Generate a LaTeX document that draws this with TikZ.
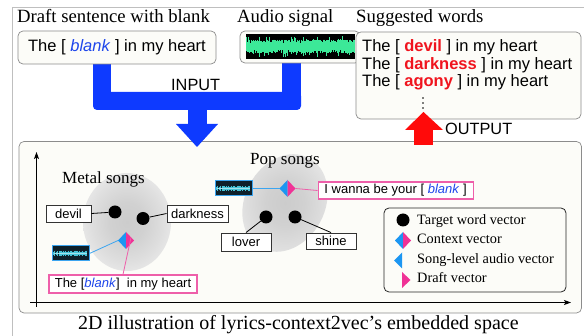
\documentclass[tikz,border=0pt]{standalone}
\usepackage{fontspec}
\setmainfont{Liberation Serif}
\setsansfont{Liberation Sans}
\usetikzlibrary{arrows.meta,calc}

\definecolor{arrowblue}{RGB}{14,58,255}
\definecolor{arrowred}{RGB}{255,10,10}
\definecolor{ctxblue}{RGB}{28,150,242}
\definecolor{ctxpink}{RGB}{240,50,150}
\definecolor{linkblue}{RGB}{60,165,240}
\definecolor{linkpink}{RGB}{238,95,170}
\definecolor{blankblue}{RGB}{30,70,235}
\definecolor{wordred}{RGB}{240,20,30}
\definecolor{cream}{RGB}{252,252,248}
\definecolor{framegray}{RGB}{140,140,140}
\definecolor{wavegreen}{RGB}{60,232,152}
\definecolor{thumbcyan}{RGB}{70,195,215}
\definecolor{thumbdark}{RGB}{14,32,42}

\pgfdeclareradialshading{blob}{\pgfpoint{0bp}{0bp}}{%
  color(0bp)=(black!20); color(10bp)=(black!18); color(20bp)=(black!13);
  color(25bp)=(black!10); color(50bp)=(black!10)}

\tikzset{
  roundbox/.style={draw=framegray, fill=cream, rounded corners=5, line width=0.7,
    inner sep=0},
  wordbox/.style={draw=black!80, fill=white, line width=0.9, inner sep=0,
    font=\sffamily\fontsize{13}{15}\selectfont},
  draftbox/.style={draw=linkpink, fill=white, line width=1.1, inner sep=0,
    font=\sffamily\fontsize{13}{15}\selectfont},
  thumb/.style={draw=linkblue, fill=thumbdark, line width=1, inner sep=0,
    minimum width=37, minimum height=15},
  dot/.style={circle, fill=black, inner sep=0, minimum size=13},
  title/.style={anchor=base west, inner sep=0, font=\fontsize{18.7}{20}\selectfont},
  sans/.style={anchor=base west, inner sep=0, font=\sffamily\fontsize{16.3}{18}\selectfont},
  legtext/.style={anchor=base west, inner sep=0, font=\fontsize{14.3}{16}\selectfont},
  ctx/.pic={
    \fill[ctxblue] (0,-8.5) -- (-8,0) -- (0,8.5) -- cycle;
    \fill[ctxpink] (0,-8.5) -- (8,0) -- (0,8.5) -- cycle;
  }
}

\newcommand{\blk}{\textcolor{blankblue}{\textit{blank}}}
\newcommand{\redw}[1]{\textcolor{wordred}{\bfseries #1}}

\begin{document}
\begin{tikzpicture}[x=1pt, y=-1pt]
\useasboundingbox (0,0) rectangle (584,336);
\fill[white] (0,0) rectangle (584,336);

% outer frame
\draw[black!25, line width=0.8] (12.5,336) -- (12.5,7.5) -- (584,7.5);

% ---------- input side ----------
\node[title] (t1) at (17,23) {Draft sentence with blank};
\node[title] (t2) at (237,23) {Audio signal};
\node[title] (t3) at (356,23) {Suggested words};

% merging input arrow
\fill[arrowblue] (93,64) rectangle (111,100);
\fill[arrowblue] (282,60) rectangle (301,100);
\fill[arrowblue, rounded corners=4] (93,92) rectangle (301,110);

\node[roundbox, minimum width=198, minimum height=33,
  font=\sffamily\fontsize{16.5}{18}\selectfont] (draft) at (117,47.5)
  {The [ \blk\ ] in my heart};

\node[roundbox, minimum width=120, minimum height=32] (audio) at (300,47) {};
\fill[black] (246,34) rectangle (355,59.5);
\pgfmathsetseed{11}
\foreach \i in {0,...,270}{
  \pgfmathsetmacro{\hu}{3+4*rnd+3.5*(rnd>0.9)}
  \pgfmathsetmacro{\hd}{3+4*rnd+3.5*(rnd>0.9)}
  \draw[wavegreen, line width=0.45] (246.5+\i*0.4, 46.5-\hu) -- (246.5+\i*0.4, 46.5+\hd);
}

\node[sans] (inlbl) at (171,91) {INPUT};

% ---------- output side ----------
\node[roundbox, minimum width=225, minimum height=87] (sugg) at (468.5,75.5) {};
\node[sans, font=\sffamily\fontsize{16.5}{18}\selectfont] (s1) at (362,52) {The [ \redw{devil} ] in my heart};
\node[sans, font=\sffamily\fontsize{16.5}{18}\selectfont] (s2) at (362,69.5) {The [ \redw{darkness} ] in my heart};
\node[sans, font=\sffamily\fontsize{16.5}{18}\selectfont] (s3) at (362,87) {The [ \redw{agony} ] in my heart};
\foreach \yy in {98,103,108} \fill (423,\yy) circle (0.9);

% ---------- embedded space panel ----------
\node[roundbox, minimum width=562.5, minimum height=171.5] (space) at (300.25,227.25) {};

% arrows drawn over the panel border
\fill[arrowblue] (188,105) rectangle (207,126);
\fill[arrowblue] (176,124) -- (218,124) -- (197,147) -- cycle;
\fill[arrowred] (414,129) rectangle (433,145);
\fill[arrowred] (405,130) -- (443,130) -- (423.5,112) -- cycle;
\node[sans] (outlbl) at (445,135) {OUTPUT};

% axes
\draw[line width=0.9, -{Stealth[length=7, width=5, inset=1.5]}] (30,302.5) -- (571,302.5);
\draw[line width=0.9, -{Stealth[length=7, width=5, inset=1.5]}] (36.5,307) -- (36.5,152);

% song clusters
\shade[shading=blob] (127,222) ellipse [x radius=44, y radius=49];
\begin{scope}[shift={(285,203)}, rotate=-28]
  \shade[shading=blob] (0,0) ellipse [x radius=40, y radius=51];
\end{scope}

\node[title, font=\fontsize{17}{19}\selectfont] (metal) at (62,184) {Metal songs};
\node[title, font=\fontsize{17}{19}\selectfont] (pop) at (250,165) {Pop songs};

% metal cluster
\node[dot] (m1) at (115,212) {};
\node[dot] (m2) at (143,218.5) {};
\node[wordbox, minimum width=45, minimum height=17] (devil) at (68.5,213.5) {devil};
\node[wordbox, minimum width=61, minimum height=17] (dark) at (197.5,213.5) {darkness};
\draw[line width=0.8] (devil.east) -- (m1);
\draw[line width=0.8] (m2) -- (dark.west);

\coordinate (cm) at (126,240.5);
\pic at (cm) {ctx};
\node[thumb] (thm) at (70.5,253.5) {};
\node[draftbox, minimum width=148, minimum height=18] (dm) at (123,284)
  {The [\blk]\ \ in my heart};
\draw[linkblue, line width=0.8] (thm.east) -- ($(cm)+(-8,0)$);
\draw[linkpink, line width=0.8] (dm.north) -- ($(cm)+(5,-3)$);

% pop cluster
\node[dot] (p1) at (266,217) {};
\node[dot] (p2) at (295,217) {};
\node[wordbox, minimum width=50, minimum height=18] (lover) at (246,242) {lover};
\node[wordbox, minimum width=50, minimum height=16] (shine) at (331,241) {shine};
\draw[line width=0.8] (p1) -- (lover.north);
\draw[line width=0.8] (p2) -- (shine.north);

\coordinate (cp) at (287.5,188.5);
\pic at (cp) {ctx};
\node[thumb] (thp) at (233.5,188.5) {};
\node[draftbox, minimum width=155, minimum height=17, anchor=west] (dp) at (317.5,190.5)
  {I wanna be your [ \blk\ ]};
\draw[linkblue, line width=0.8] (thp.east) -- ($(cp)+(-8,0)$);
\draw[linkpink, line width=0.8] ($(cp)+(8,0)$) -- (dp.west);

% waveform thumbnails
\foreach \tn in {thm,thp}{
  \begin{scope}[shift={(\tn.west)}]
    \pgfmathsetseed{5}
    \foreach \i in {0,...,48}{
      \pgfmathsetmacro{\hu}{0.8+2.2*rnd}
      \draw[thumbcyan, line width=0.5] (2+\i*0.68,-\hu) -- (2+\i*0.68,\hu);
    }
    \draw[thumbcyan!50!white, line width=0.4] (2,0) -- (35,0);
  \end{scope}
}

% legend
\node[draw=black!85, fill=cream, rounded corners=5, line width=0.8,
  minimum width=182, minimum height=84, inner sep=0] (legend) at (475,250) {};
\node[dot] (ld) at (403,220) {};
\node[legtext] (l1) at (417,225) {Target word vector};
\coordinate (lc) at (403,240.5);
\pic at (lc) {ctx};
\node[legtext] (l2) at (417,244) {Context vector};
\fill[ctxblue] (402,252.5) -- (394,260.5) -- (402,268.5) -- cycle;
\node[legtext] (l3) at (417,263.5) {Song-level audio vector};
\fill[ctxpink] (402,272) -- (410.5,280) -- (402,288) -- cycle;
\node[legtext] (l4) at (417,283) {Draft vector};

% caption
\node[title, font=\fontsize{20}{22}\selectfont] (cap) at (78,330)
  {2D illustration of lyrics-context2vec’s embedded space};
\end{tikzpicture}
\end{document}
